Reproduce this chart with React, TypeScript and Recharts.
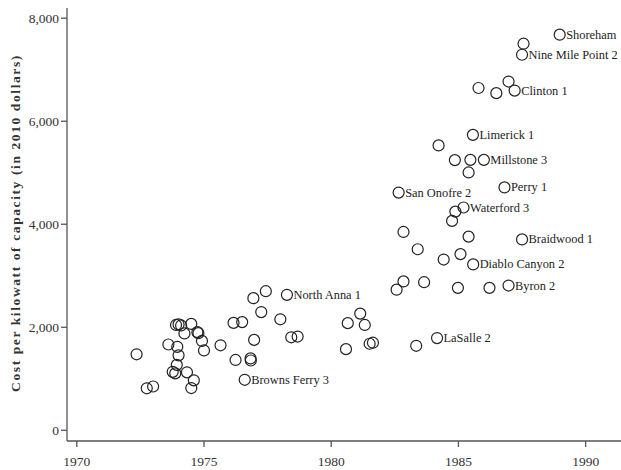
import React from 'react';
import { ScatterChart, Scatter, XAxis, YAxis } from 'recharts';

// year construction started, cost per kW (2010 $), plant name ('' = no label)
const years = [
    1972.35, 1972.75, 1973.0, 1973.6, 1973.9, 1974.0, 1974.1, 1973.95, 1974.0, 1973.93,
    1973.77, 1973.87, 1974.23, 1974.5, 1974.74, 1974.78, 1974.92, 1975.0, 1974.33, 1974.6,
    1974.5, 1975.65, 1976.16, 1976.5, 1976.24, 1976.83, 1976.84, 1976.97, 1976.94, 1977.43,
    1977.25, 1978.0, 1978.26, 1978.43, 1978.68, 1976.6,
    1980.65, 1981.14, 1981.32, 1980.58, 1981.51, 1981.64, 1983.34, 1984.16,
    1982.57, 1982.84, 1983.65, 1984.98, 1986.22, 1986.97, 1983.4, 1984.42, 1985.08, 1985.58,
    1982.84, 1985.4, 1987.5, 1982.65, 1986.81, 1985.2, 1984.88, 1984.75, 1985.4, 1984.86,
    1985.47, 1986.0, 1984.22, 1985.57, 1985.79, 1986.49, 1986.97, 1987.21, 1987.56, 1987.5,
    1988.98,
];

const costs = [
    1475, 815, 850, 1665, 2045, 2055, 2035, 1620, 1455, 1270,
    1135, 1105, 1880, 2065, 1905, 1885, 1735, 1550, 1125, 970,
    820, 1650, 2085, 2100, 1365, 1395, 1355, 1755, 2565, 2700,
    2295, 2155, 2630, 1805, 1820, 980,
    2080, 2265, 2045, 1575, 1680, 1700, 1640, 1790,
    2730, 2890, 2875, 2765, 2765, 2810, 3515, 3315, 3420, 3220,
    3850, 3760, 3705, 4615, 4715, 4325, 4245, 4065, 5005, 5245,
    5250, 5250, 5530, 5735, 6645, 6545, 6770, 6595, 7505, 7290,
    7680,
];

const plantNames = [
    '', '', '', '', '', '', '', '', '', '',
    '', '', '', '', '', '', '', '', '', '',
    '', '', '', '', '', '', '', '', '', '',
    '', '', 'North Anna 1', '', '', 'Browns Ferry 3',
    '', '', '', '', '', '', '', 'LaSalle 2',
    '', '', '', '', '', 'Byron 2', '', '', '', 'Diablo Canyon 2',
    '', '', 'Braidwood 1', 'San Onofre 2', 'Perry 1', 'Waterford 3', '', '', '', '',
    '', 'Millstone 3', '', 'Limerick 1', '', '', '', 'Clinton 1', '', 'Nine Mile Point 2',
    'Shoreham',
];

const xTicks = [1970, 1975, 1980, 1985, 1990];
const yTicks = [0, 2000, 4000, 6000, 8000];

const data = years.map((year, i) => ({ year, cost: costs[i], name: plantNames[i] }));

const SERIF = '"Liberation Serif", "DejaVu Serif", serif';

const PlantMark = (props: any) => {
    const { cx, cy, payload } = props;
    return (
        <g>
            <circle cx={cx} cy={cy} r={5.5} fill="none" stroke="#222" strokeWidth={1.2} />
            {payload.name ? (
                <text
                    x={cx + 6.5}
                    y={cy}
                    dominantBaseline="central"
                    fontFamily={SERIF}
                    fontSize={12.4}
                    fill="#222"
                >
                    {payload.name}
                </text>
            ) : null}
        </g>
    );
};

const YLabel = () => (
    <text
        x={15}
        y={223}
        transform="rotate(-90, 15, 223)"
        textAnchor="middle"
        dominantBaseline="central"
        fontFamily={SERIF}
        fontSize={13.5}
        fontWeight="bold"
        letterSpacing={1.6}
        fill="#333"
    >
        Cost per kilowatt of capacity (in 2010 dollars)
    </text>
);

const App: React.FC = () => {
    return (
        <div style={{ position: 'absolute', left: 0, top: 0, background: '#fff' }}>
            <ScatterChart
                width={621}
                height={470}
                margin={{ top: 8, right: 0, left: 0, bottom: 0 }}
            >
                <XAxis
                    type="number"
                    dataKey="year"
                    domain={[1969.615, 1991.39]}
                    allowDataOverflow
                    ticks={xTicks}
                    height={29}
                    stroke="#555"
                    strokeWidth={1.3}
                    tickSize={6}
                    tickMargin={9}
                    tick={{ fill: '#333', fontSize: 13.5, fontFamily: SERIF }}
                />
                <YAxis
                    type="number"
                    dataKey="cost"
                    domain={[-208, 8198]}
                    allowDataOverflow
                    ticks={yTicks}
                    width={67}
                    stroke="#555"
                    strokeWidth={1.3}
                    tickSize={6}
                    tickMargin={2}
                    tickFormatter={(v) => v.toLocaleString('en-US')}
                    tick={{ fill: '#333', fontSize: 13.5, fontFamily: SERIF }}
                    label={{ content: () => <YLabel /> }}
                />
                <Scatter data={data} shape={PlantMark} isAnimationActive={false} />
            </ScatterChart>
        </div>
    );
};

export default App;
